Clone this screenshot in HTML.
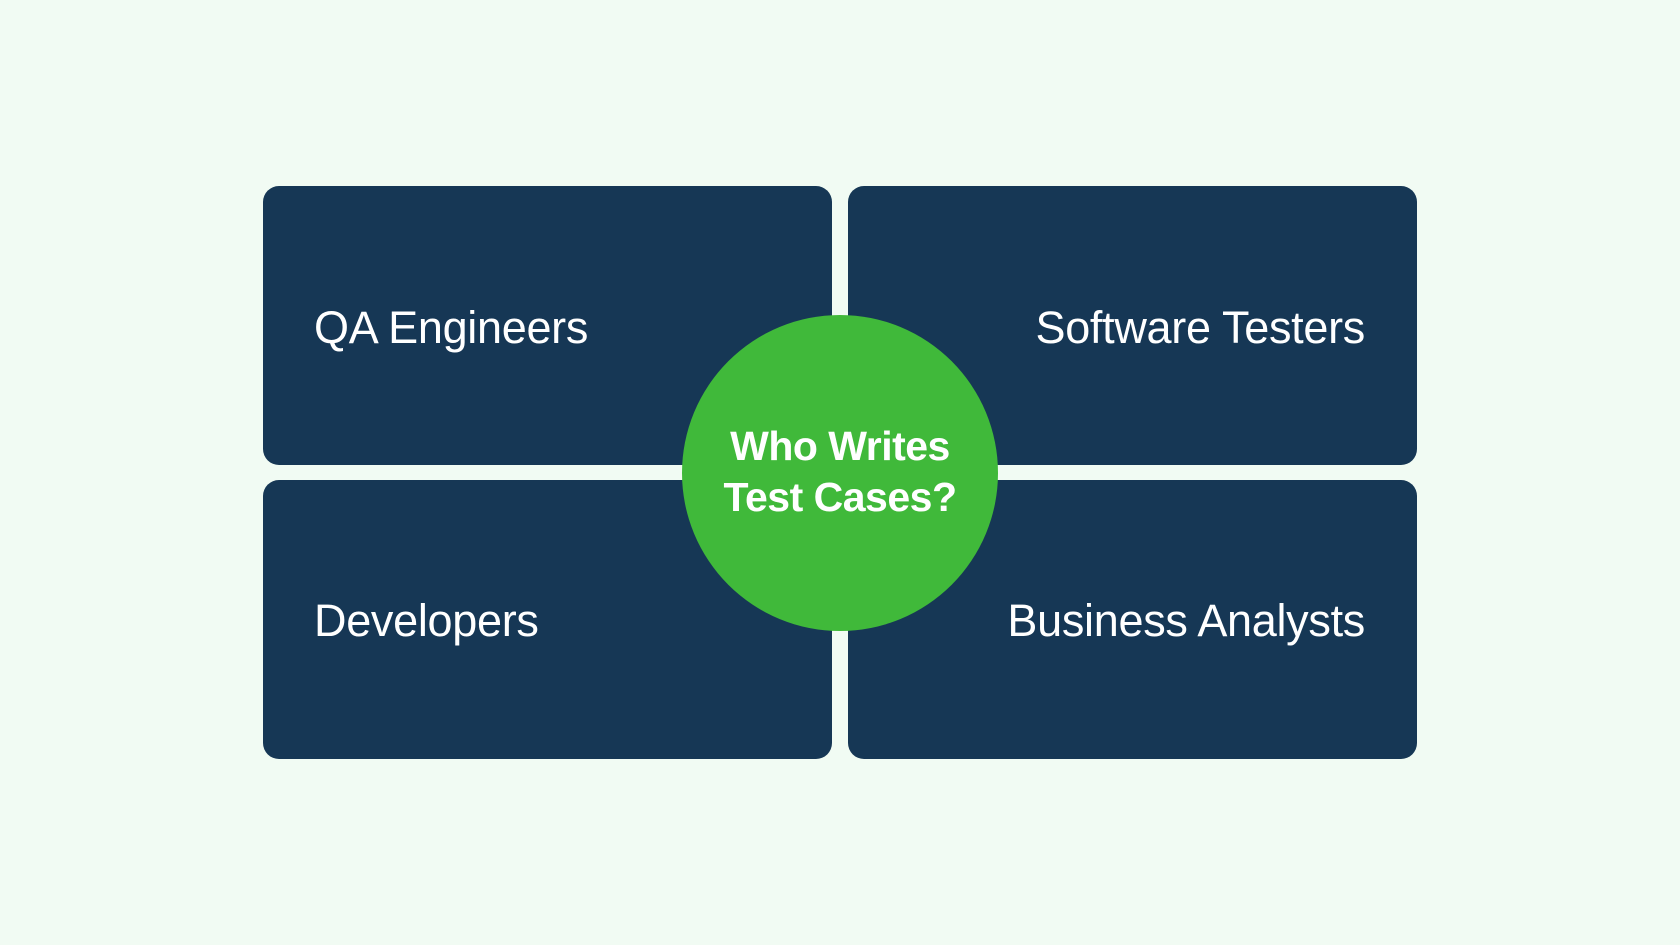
<!DOCTYPE html>
<html><head><meta charset="utf-8"><style>
html,body{margin:0;padding:0;}
body{width:1680px;height:945px;background:#f1fbf3;position:relative;overflow:hidden;font-family:"Liberation Sans",sans-serif;}
.b{position:absolute;background:#163755;border-radius:16px;width:569px;height:279px;}
.t{position:absolute;color:#fff;font-size:45px;line-height:50px;top:117px;letter-spacing:-0.3px;}
.c{position:absolute;left:682px;top:315px;width:316px;height:316px;border-radius:50%;background:#40b93a;}
.ct{position:absolute;left:0;width:316px;text-align:center;color:#fff;font-weight:bold;font-size:41px;line-height:51px;top:106px;letter-spacing:-0.5px;}
</style></head><body>
<div class="b" style="left:263px;top:186px;"><div class="t" style="left:51px;">QA Engineers</div></div>
<div class="b" style="left:848px;top:186px;"><div class="t" style="right:52px;">Software Testers</div></div>
<div class="b" style="left:263px;top:480px;"><div class="t" style="left:51px;top:116px;">Developers</div></div>
<div class="b" style="left:848px;top:480px;"><div class="t" style="right:52px;top:116px;">Business Analysts</div></div>
<div class="c"><div class="ct">Who Writes<br>Test Cases?</div></div>
</body></html>
